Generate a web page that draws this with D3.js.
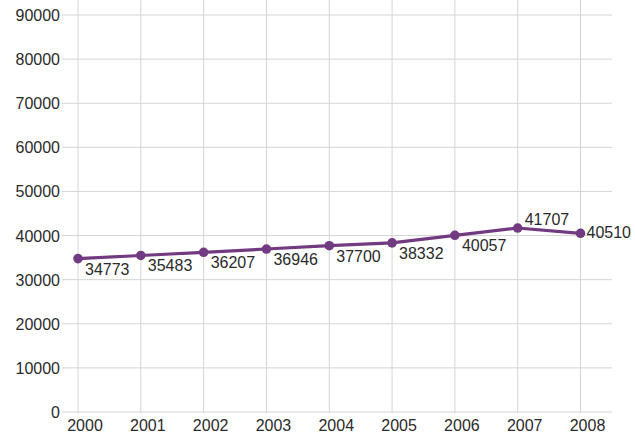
<!DOCTYPE html>
<html lang="en">
<head>
  <meta charset="UTF-8"/>
  <title>Line chart</title>
  <script src="https://d3js.org/d3.v7.min.js"></script>
  <style>
    body { margin: 0; background: #fff; }
    text { font-family: "Liberation Sans", Arial, sans-serif; fill: #2a2a2a; }
  </style>
</head>
<body>
  <script>
    var years = ["2000", "2001", "2002", "2003", "2004", "2005", "2006", "2007", "2008"];
    var values = [34773, 35483, 36207, 36946, 37700, 38332, 40057, 41707, 40510];
    var yTicks = [0, 10000, 20000, 30000, 40000, 50000, 60000, 70000, 80000, 90000];
    // label placement per point: "below", "above", "right"
    var labelPos = ["below", "below", "below", "below", "below", "below", "below", "above", "right"];

    var w = 635, h = 438;

    var svg = d3.select("body").append("svg")
                .attr("width", w)
                .attr("height", h);

    var x = d3.scalePoint()
              .domain(years)
              .range([78, 580.5]);

    var y = d3.scaleLinear()
              .domain([0, 90000])
              .range([412, 15]);

    // horizontal grid
    svg.append("g")
       .selectAll("line")
       .data(yTicks)
       .enter()
       .append("line")
       .attr("x1", 62)
       .attr("x2", 612)
       .attr("y1", function(d) { return y(d); })
       .attr("y2", function(d) { return y(d); })
       .attr("stroke", "#d4d4d4")
       .attr("stroke-width", 1);

    // vertical grid
    svg.append("g")
       .selectAll("line")
       .data(years)
       .enter()
       .append("line")
       .attr("x1", function(d) { return x(d); })
       .attr("x2", function(d) { return x(d); })
       .attr("y1", 0)
       .attr("y2", 413)
       .attr("stroke", "#d4d4d4")
       .attr("stroke-width", 1);

    // y labels
    svg.append("g")
       .selectAll("text")
       .data(yTicks)
       .enter()
       .append("text")
       .attr("x", 60)
       .attr("y", function(d) { return y(d) + 6; })
       .attr("text-anchor", "end")
       .style("font-size", "16px")
       .text(function(d) { return d; });

    // x labels
    svg.append("g")
       .selectAll("text")
       .data(years)
       .enter()
       .append("text")
       .attr("x", function(d) { return x(d) + 7; })
       .attr("y", 431)
       .attr("text-anchor", "middle")
       .style("font-size", "16px")
       .text(function(d) { return d; });

    var points = years.map(function(d, i) { return { year: d, value: values[i], pos: labelPos[i] }; });

    var line = d3.line()
                 .x(function(d) { return x(d.year); })
                 .y(function(d) { return y(d.value); });

    svg.append("path")
       .datum(points)
       .attr("d", line)
       .attr("fill", "none")
       .attr("stroke", "#723a80")
       .attr("stroke-width", 3.2);

    svg.selectAll("circle")
       .data(points)
       .enter()
       .append("circle")
       .attr("cx", function(d) { return x(d.year); })
       .attr("cy", function(d) { return y(d.value); })
       .attr("r", 4.8)
       .attr("fill", "#723a80");

    svg.append("g")
       .selectAll("text")
       .data(points)
       .enter()
       .append("text")
       .attr("x", function(d) {
         if (d.pos == "right") return x(d.year) + 6;
         return x(d.year) + 7;
       })
       .attr("y", function(d) {
         if (d.pos == "above") return y(d.value) - 3;
         if (d.pos == "right") return y(d.value) + 5;
         return y(d.value) + 16;
       })
       .style("font-size", "16px")
       .text(function(d) { return d.value; });
  </script>
</body>
</html>
